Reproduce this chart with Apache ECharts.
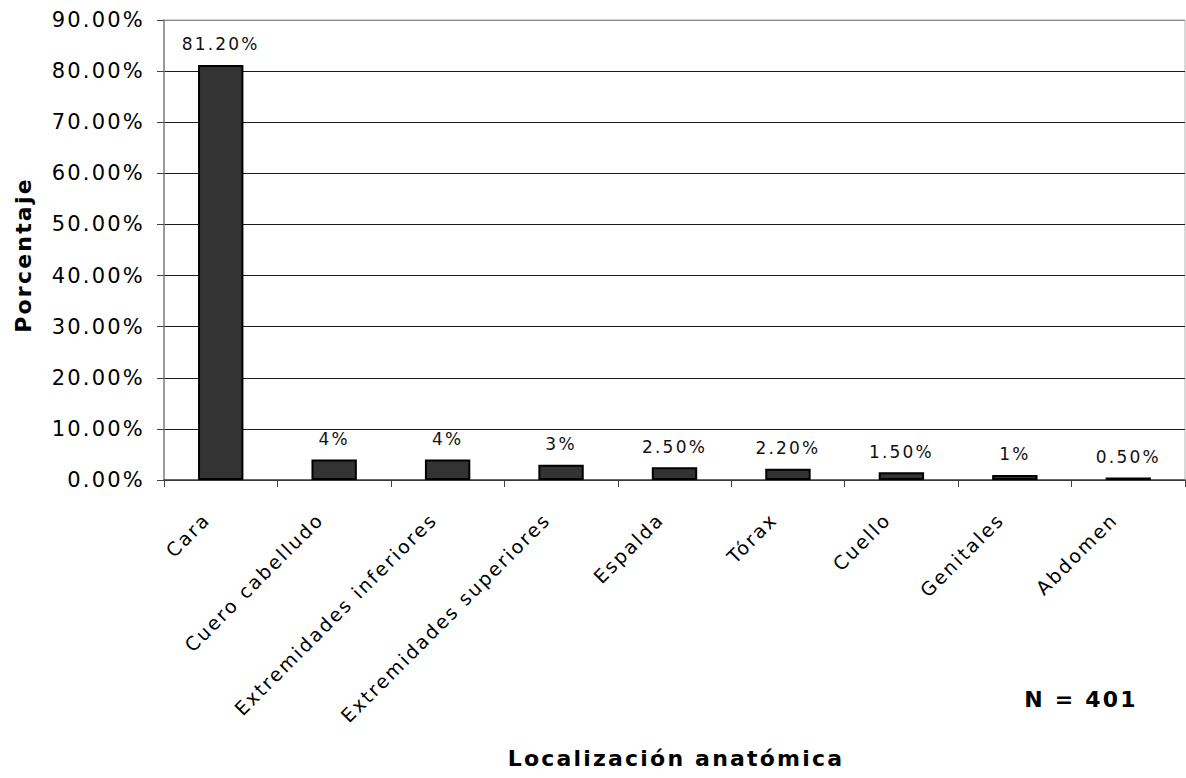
<!DOCTYPE html>
<html>
<head>
<meta charset="utf-8">
<script src="https://cdn.jsdelivr.net/npm/echarts@6/dist/echarts.min.js"></script>
<style>
  html, body { margin: 0; padding: 0; background: #fff; }
  #chart { width: 1186px; height: 778px; }
  /* wide, airy lettering for every label */
  #chart svg text { letter-spacing: 2.2px; }
</style>
</head>
<body>
<div id="chart"></div>
<script>
// Localización anatómica de las lesiones (porcentaje)
const categories = ['Cara', 'Cuero cabelludo', 'Extremidades inferiores', 'Extremidades superiores',
                    'Espalda', 'Tórax', 'Cuello', 'Genitales', 'Abdomen'];
const values = [81.2, 4, 4, 3, 2.5, 2.2, 1.5, 1, 0.5];
const valueLabels = ['81.20%', '4%', '4%', '3%', '2.50%', '2.20%', '1.50%', '1%', '0.50%'];
const yTicks = { min: 0, max: 90, interval: 10 };
const sampleNote = 'N = 401';

const font = 'DejaVu Sans, Verdana, sans-serif';
const chart = echarts.init(document.getElementById('chart'), null, { renderer: 'svg' });

// Horizontal gridlines: dark inside, grey at the top edge
const gridColors = [];
for (let v = yTicks.min; v <= yTicks.max; v += yTicks.interval) {
  gridColors.push(v === yTicks.max ? '#8a8a8a' : '#1a1a1a');
}

chart.setOption({
  animation: false,
  backgroundColor: '#ffffff',
  textStyle: { fontFamily: font },
  title: [
    {
      text: 'Localización anatómica',
      left: 676, top: 747, textAlign: 'center', padding: 0,
      textStyle: { fontFamily: font, fontSize: 22, fontWeight: 'bold', color: '#000' }
    },
    {
      text: sampleNote,
      left: 1081, top: 688, textAlign: 'center', padding: 0,
      textStyle: { fontFamily: font, fontSize: 22, fontWeight: 'bold', color: '#000' }
    }
  ],
  grid: {
    left: 164, right: 1, top: 20, bottom: 298,
    show: true, borderColor: '#b0b0b0', borderWidth: 1, backgroundColor: '#fff'
  },
  xAxis: {
    type: 'category',
    data: categories,
    boundaryGap: true,
    axisLine: { lineStyle: { color: '#444', width: 1.5 } },
    axisTick: { show: true, alignWithLabel: false, length: 7, lineStyle: { color: '#444' } },
    axisLabel: {
      interval: 0, rotate: 45, margin: 22, padding: [0, 20, 0, 0],
      fontFamily: font, fontSize: 19, color: '#000'
    },
    splitLine: { show: false }
  },
  yAxis: {
    type: 'value',
    min: yTicks.min, max: yTicks.max, interval: yTicks.interval,
    name: 'Porcentaje',
    nameLocation: 'middle', nameRotate: 90, nameGap: 130,
    nameTextStyle: {
      fontFamily: font, fontSize: 22, fontWeight: 'bold', color: '#000',
      padding: [0, 10, 0, 0]
    },
    axisLine: { show: true, lineStyle: { color: '#888', width: 1.5 } },
    axisTick: { show: true, length: 7, lineStyle: { color: '#444' } },
    axisLabel: {
      margin: 19, fontFamily: font, fontSize: 21, color: '#000',
      formatter: v => v.toFixed(2) + '%'
    },
    splitLine: { show: true, lineStyle: { color: gridColors, width: 1 } }
  },
  series: [{
    type: 'bar',
    data: values,
    barWidth: '40%',
    itemStyle: { color: '#333333', borderColor: '#000', borderWidth: 2 },
    label: {
      show: true, position: 'top', distance: 12,
      fontFamily: font, fontSize: 17, color: '#111',
      formatter: p => valueLabels[p.dataIndex]
    }
  }]
});
</script>
</body>
</html>
